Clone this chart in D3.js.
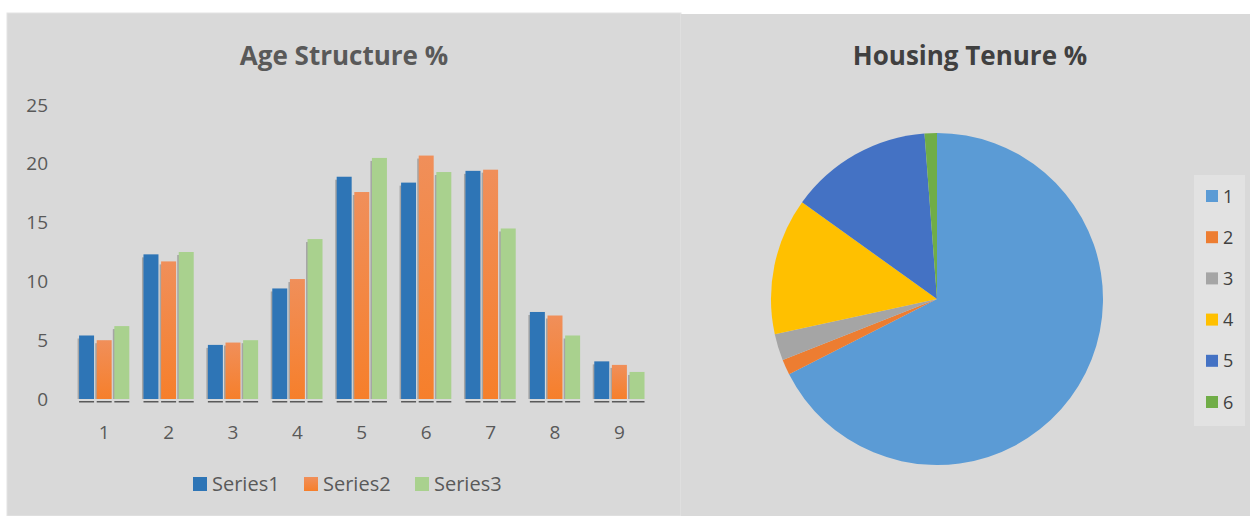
<!DOCTYPE html>
<html>
<head>
<meta charset="utf-8">
<script src="https://cdn.jsdelivr.net/npm/d3@7"></script>
<style>
  body { margin: 0; background: #fff; }
  svg { display: block; font-family: "Open Sans", Lato, sans-serif; }
</style>
</head>
<body>
<svg id="chart"></svg>
<script>
const WIDTH = 1250;
const HEIGHT = 516;

// bar chart data
const ageGroups = ["1", "2", "3", "4", "5", "6", "7", "8", "9"];
const seriesNames = ["Series1", "Series2", "Series3"];
const series1 = [5.4, 12.3, 4.6, 9.4, 18.9, 18.4, 19.4, 7.4, 3.2];
const series2 = [5.0, 11.7, 4.8, 10.2, 17.6, 20.7, 19.5, 7.1, 2.9];
const series3 = [6.2, 12.5, 5.0, 13.6, 20.5, 19.3, 14.5, 5.4, 2.3];
const yTicks = [0, 5, 10, 15, 20, 25];

// pie data
const tenureLabels = ["1", "2", "3", "4", "5", "6"];
const tenureValues = [67.5, 1.5, 2.6, 13.3, 13.9, 1.2];

const barColors = ["#2e75b6", "url(#orangeGrad)", "#a9d18e"];
const pieColors = ["#5b9bd5", "#ed7d31", "#a5a5a5", "#ffc000", "#4472c4", "#70ad47"];
const TEXT = "#595959";

const svg = d3.select("#chart").attr("width", WIDTH).attr("height", HEIGHT);

const defs = svg.append("defs");
const grad = defs.append("linearGradient")
  .attr("id", "orangeGrad").attr("x1", 0).attr("y1", 0).attr("x2", 0).attr("y2", 1);
grad.append("stop").attr("offset", "0%").attr("stop-color", "#f08f5a");
grad.append("stop").attr("offset", "100%").attr("stop-color", "#f67f2b");

/* panels */
svg.append("rect").attr("x", 7).attr("y", 13).attr("width", 674).attr("height", 503)
  .attr("fill", "#d9d9d9").attr("stroke", "#e4e4e4").attr("stroke-width", 1);
svg.append("rect").attr("x", 681).attr("y", 14).attr("width", 569).attr("height", 502)
  .attr("fill", "#d9d9d9");

/* ---------- bar chart ---------- */
const x0 = d3.scaleBand().domain(ageGroups).range([72, 651.6]).paddingInner(0.22).paddingOuter(0.11);
const x1 = d3.scaleBand().domain(seriesNames).range([0, x0.bandwidth()]).paddingInner(0.15);
const y = d3.scaleLinear().domain([0, 25]).range([399, 105]);

svg.append("text").attr("x", 344).attr("y", 65).attr("text-anchor", "middle")
  .attr("font-size", 26).attr("font-weight", "bold").attr("fill", TEXT)
  .text("Age Structure %");

const yAxis = svg.append("g").attr("transform", "translate(48,0)")
  .call(d3.axisLeft(y).tickValues(yTicks).tickSize(0).tickPadding(0));
yAxis.select(".domain").remove();
yAxis.selectAll("text").attr("font-size", 19).attr("fill", TEXT)
  .attr("font-family", "'Open Sans', sans-serif").attr("text-anchor", "end");

const xAxis = svg.append("g").attr("transform", "translate(0,399)")
  .call(d3.axisBottom(x0).tickSize(0).tickPadding(27));
xAxis.select(".domain").remove();
xAxis.selectAll("text").attr("font-size", 19).attr("fill", TEXT)
  .attr("font-family", "'Open Sans', sans-serif");

const allSeries = [series1, series2, series3];
const rows = [];
ageGroups.forEach((g, i) => {
  allSeries.forEach((s, j) => {
    rows.push({ group: g, name: seriesNames[j], value: s[i], idx: j });
  });
});

const bars = svg.append("g");
// soft shadow on the left side
bars.selectAll("rect.shadow").data(rows).enter().append("rect")
  .attr("class", "shadow")
  .attr("x", (d) => x0(d.group) + x1(d.name) - 1.5)
  .attr("y", (d) => y(d.value) + 3)
  .attr("width", x1.bandwidth())
  .attr("height", (d) => y(0) - y(d.value) - 3)
  .attr("fill", "#8f8f8f").attr("opacity", 0.7);
bars.selectAll("rect.bar").data(rows).enter().append("rect")
  .attr("class", "bar")
  .attr("x", (d) => x0(d.group) + x1(d.name))
  .attr("y", (d) => y(d.value))
  .attr("width", x1.bandwidth())
  .attr("height", (d) => y(0) - y(d.value))
  .attr("fill", (d) => barColors[d.idx]);
// dashes under each bar
bars.selectAll("rect.base").data(rows).enter().append("rect")
  .attr("x", (d) => x0(d.group) + x1(d.name))
  .attr("y", y(0) + 2)
  .attr("width", x1.bandwidth())
  .attr("height", 1.5)
  .attr("fill", "#5a5a5a");

// legend
const legend = svg.append("g").attr("transform", "translate(193,484)");
const legX = [0, 111, 222];
seriesNames.forEach((n, i) => {
  legend.append("rect").attr("x", legX[i]).attr("y", -7).attr("width", 14).attr("height", 14)
    .attr("fill", barColors[i]);
  legend.append("text").attr("x", legX[i] + 19).attr("y", 7)
    .attr("font-size", 20).attr("fill", TEXT).text(n);
});

/* ---------- pie chart ---------- */
svg.append("text").attr("x", 970).attr("y", 65).attr("text-anchor", "middle")
  .attr("font-size", 26).attr("font-weight", "bold").attr("fill", "#404040")
  .text("Housing Tenure %");

const pie = d3.pie().sort(null).value((d) => d);
const arc = d3.arc().innerRadius(0).outerRadius(166);
const pieG = svg.append("g").attr("transform", "translate(937,299)");
pieG.selectAll("path").data(pie(tenureValues)).enter().append("path")
  .attr("d", arc)
  .attr("fill", (d, i) => pieColors[i]);

const pLeg = svg.append("g");
pLeg.append("rect").attr("x", 1194).attr("y", 175).attr("width", 51).attr("height", 251)
  .attr("fill", "#e2e2e2");
const legY = d3.scalePoint().domain(tenureLabels).range([196, 402]);
tenureLabels.forEach((l, i) => {
  pLeg.append("rect").attr("x", 1206).attr("y", legY(l) - 6).attr("width", 12).attr("height", 12)
    .attr("fill", pieColors[i]);
  pLeg.append("text").attr("x", 1223).attr("y", legY(l) + 6.5)
    .attr("font-size", 18).attr("fill", "#404040").text(l);
});
</script>
</body>
</html>
